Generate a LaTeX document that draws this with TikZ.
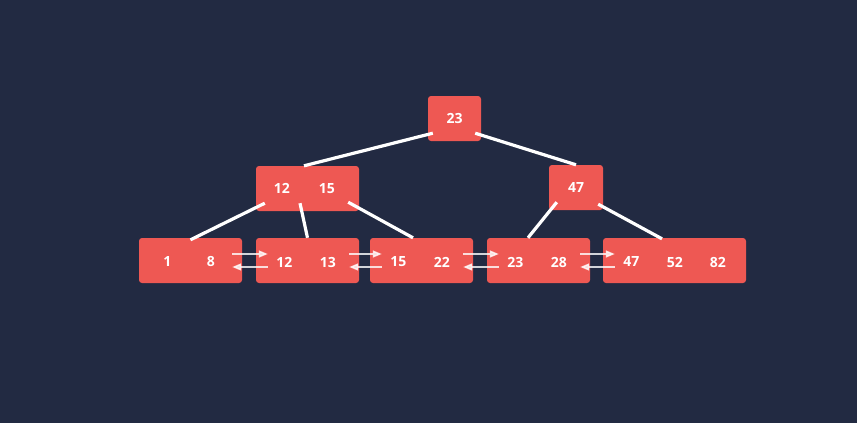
\documentclass[tikz,border=0pt]{standalone}
\usepackage{fontspec}
\setmainfont{Open Sans}
\usepackage{tikz}
\usetikzlibrary{arrows.meta}
\definecolor{bgnavy}{HTML}{222A42}
\definecolor{keyred}{HTML}{EE5853}

\begin{document}
\begin{tikzpicture}[x=1pt, y=1pt,
    box/.style={fill=keyred, rounded corners=3pt, minimum height=45pt, inner sep=0pt},
    key/.style={text=white, font=\fontsize{14}{16}\selectfont\bfseries},
    edge/.style={white, line width=3.2pt},
    link/.style={white, opacity=0.8, line width=1.4pt, -{Triangle[length=9pt,width=7pt]}}]
% Background
\fill[bgnavy] (0,0) rectangle (857,-423);
\useasboundingbox (0,0) rectangle (857,-423);

% Internal nodes
\node[box, minimum width=53pt] (root) at (454.5,-118.5) {};
\node[box, minimum width=103pt] (ml) at (307.5,-188.5) {};
\node[box, minimum width=54pt] (mr) at (576,-187.5) {};

% Leaf nodes
\foreach \n/\x/\w in {l1/190.5/103, l2/307.5/103, l3/421.5/103, l4/538.5/103, l5/674.5/143} {
    \node[box, minimum width=\w pt] (\n) at (\x,-260.5) {};
}

% Keys
\node[key] at (root) {23};
\node[key] at ([xshift=26pt]ml.west) {12};
\node[key] at ([xshift=71pt]ml.west) {15};
\node[key] at (mr) {47};
\foreach \n/\a/\b in {l1/1/8, l2/12/13, l3/15/22, l4/23/28, l5/47/52} {
    \node[key] at ([xshift=28.5pt,yshift=-1.5pt]\n.west) {\a};
    \node[key] at ([xshift=72pt,yshift=-1.5pt]\n.west) {\b};
}
\node[key] at ([xshift=115pt,yshift=-1.5pt]l5.west) {82};

% Tree edges
\draw[edge] ([xshift=5pt,yshift=8pt]root.south west) -- ([xshift=-3.5pt]ml.north);
\draw[edge] ([xshift=-6pt,yshift=8pt]root.south east) -- (mr.north);
\draw[edge] ([xshift=9pt,yshift=8pt]ml.south west) -- ([yshift=-2pt]l1.north);
\draw[edge] ([xshift=-7.5pt,yshift=8pt]ml.south) -- (l2.north);
\draw[edge] ([xshift=-11pt,yshift=9pt]ml.south east) -- ([xshift=-8.5pt]l3.north);
\draw[edge] ([xshift=8pt,yshift=8pt]mr.south west) -- ([xshift=-10.5pt]l4.north);
\draw[edge] ([xshift=-5pt,yshift=6pt]mr.south east) -- ([xshift=-12.5pt,yshift=-1pt]l5.north);

% Leaf links
\foreach \a/\b in {l1/l2, l2/l3, l3/l4, l4/l5} {
    \draw[link] ([xshift=-10pt,yshift=6.5pt]\a.east) -- ([xshift=12pt,yshift=6.5pt]\b.west);
    \draw[link] ([xshift=12pt,yshift=-6.5pt]\b.west) -- ([xshift=-10pt,yshift=-6.5pt]\a.east);
}
\end{tikzpicture}
\end{document}
